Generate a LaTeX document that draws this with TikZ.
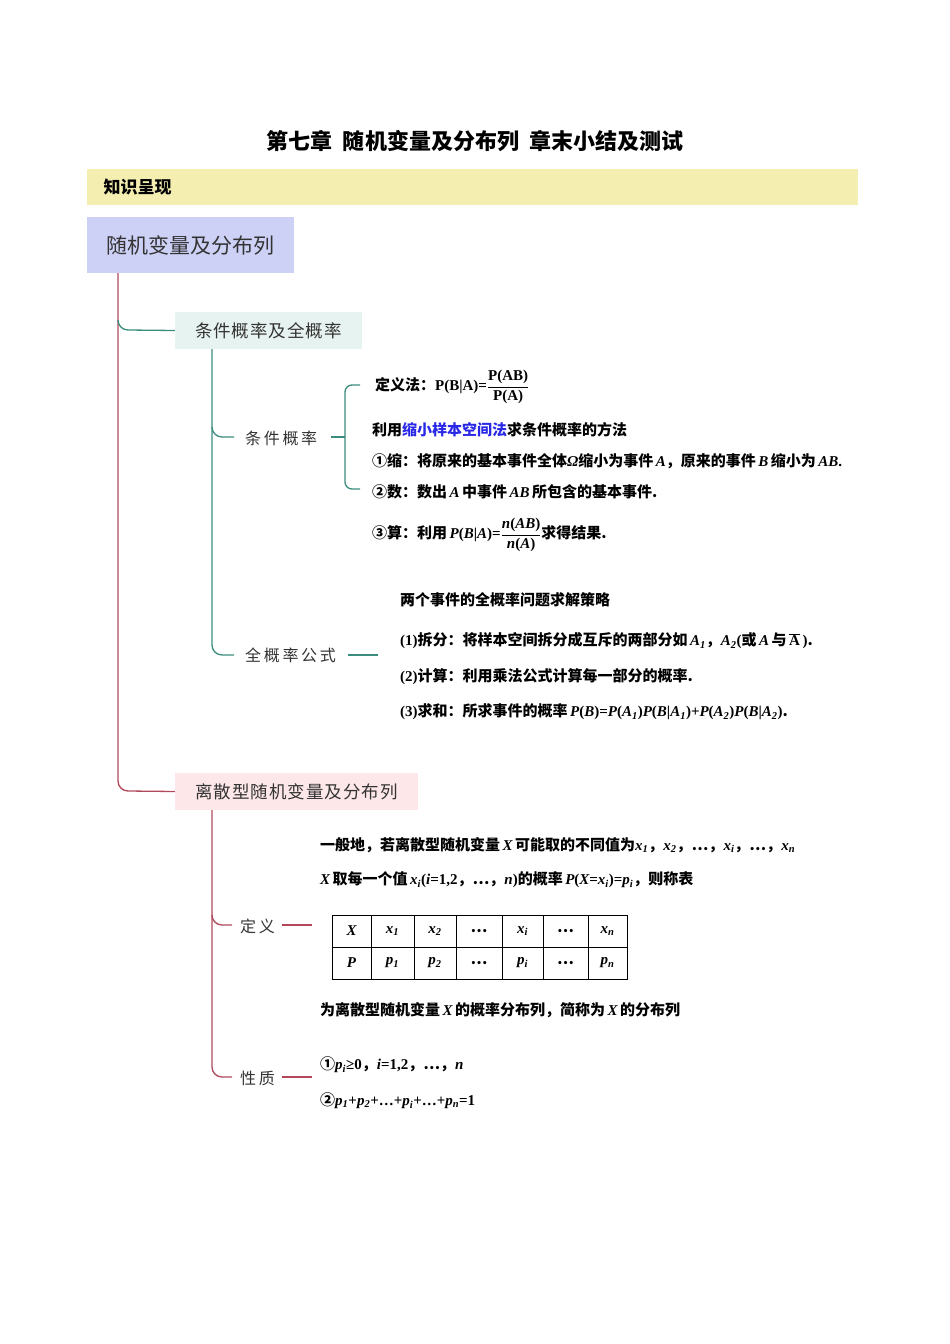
\documentclass[tikz,border=0pt]{standalone}
\usepackage{amsmath,amssymb}
\usepackage{fontspec}
\setmainfont{Noto Sans CJK SC}
\newfontfamily\lat{Liberation Serif}
\newcommand{\mi}[1]{{\lat\bfseries\itshape #1}}
\newcommand{\mr}[1]{{\lat\bfseries #1}}
\newcommand{\sbx}[1]{\textsubscript{\lat\bfseries\itshape #1}}
\begin{document}
\begin{tikzpicture}[x=1pt,y=-1pt,
  txt/.style={anchor=west, inner sep=0pt, font=\fontsize{15}{17}\selectfont\bfseries},
  lbl/.style={anchor=west, inner sep=0pt, font=\fontsize{16}{18}\selectfont, text=black!80},
  cell/.style={draw, minimum height=32pt, inner sep=0pt, font=\fontsize{15}{17}\selectfont\bfseries}]
\useasboundingbox (0,0) rectangle (950,1344);
\definecolor{tl}{RGB}{58,140,125}
\definecolor{pkc}{RGB}{178,72,92}
\node[font=\fontsize{22}{24}\selectfont\bfseries] (title) at (475,141) {第七章\ \ 随机变量及分布列\ \ 章末小结及测试};
\fill[fill={rgb,255:red,244;green,238;blue,176}] (87,169) rectangle (858,205);
\node[anchor=west, font=\fontsize{17}{19}\selectfont\bfseries] (zs) at (100,187) {知识呈现};
\node[fill={rgb,255:red,205;green,209;blue,246}, minimum width=207pt, minimum height=56pt, font=\fontsize{21}{23}\selectfont, text=black!80] (root) at (190.5,245) {随机变量及分布列};
\node[fill={rgb,255:red,231;green,243;blue,240}, minimum width=187pt, minimum height=37pt, font=\fontsize{17.5}{19}\selectfont, text=black!80] (b1) at (268.5,330.5) {条\kern1pt 件\kern1pt 概\kern1pt 率\kern1pt 及\kern1pt 全\kern1pt 概\kern1pt 率};
\node[fill={rgb,255:red,253;green,231;blue,233}, minimum width=243pt, minimum height=37pt, font=\fontsize{17.5}{19}\selectfont, text=black!80] (b2) at (296.5,791.5) {离\kern1pt 散\kern1pt 型\kern1pt 随\kern1pt 机\kern1pt 变\kern1pt 量\kern1pt 及\kern1pt 分\kern1pt 布\kern1pt 列};
% pink trunk
\draw[line width=1.3pt, draw=pkc] (118,273) -- (118,781) to[out=-90,in=180] (128,791) -- (b2.west);
\draw[line width=1.3pt, draw=tl] (118,320) to[out=-90,in=180] (128,330) -- (b1.west);
% teal sub-trunk
\node[lbl] (c1) at (245,438) {条\,件\,概\,率};
\node[lbl] (c2) at (245,655) {全\,概\,率\,公\,式};
\draw[line width=1.3pt, draw=tl] (212,349) -- (212,645) to[out=-90,in=180] (222,655) -- (234,655);
\draw[line width=1.3pt, draw=tl] (212,427) to[out=-90,in=180] (222,437) -- (234,437);
\draw[line width=1.3pt, draw=tl] (331,437) -- (345,437);
\draw[line width=1.3pt, draw=tl] (360,385) -- (352,385) to[out=180,in=90] (345,392) -- (345,482) to[out=-90,in=180] (352,489) -- (360,489);
\draw[line width=1.3pt, draw=tl] (348,655) -- (378,655);
% pink sub-trunk
\node[lbl] (d1) at (240,926) {定\,义};
\node[lbl] (d2) at (240,1078) {性\,质};
\draw[line width=1.3pt, draw=pkc] (212,810) -- (212,1067) to[out=-90,in=180] (222,1077) -- (232,1077);
\draw[line width=1.3pt, draw=pkc] (212,915) to[out=-90,in=180] (222,925) -- (232,925);
\draw[line width=1.3pt, draw=pkc] (282,925) -- (312,925);
\draw[line width=1.3pt, draw=pkc] (282,1077) -- (312,1077);
% conditional probability texts
\node[txt] (t1) at (375,387) {定义法：\mr{P(B|A)=}$\genfrac{}{}{0.8pt}{0}{\text{\mr{P(AB)}}}{\text{\mr{P(A)}}}$};
\node[txt] (t2) at (372,430) {利用{\color[RGB]{40,40,230}缩小样本空间法}求条件概率的方法};
\node[txt] (t3) at (372,461) {①缩：将原来的基本事件全体\mi{Ω}缩小为事件\,\mi{A}，原来的事件\,\mi{B}\,缩小为\,\mi{AB}\mr{.}};
\node[txt] (t4) at (372,492) {②数：数出\,\mi{A}\,中事件\,\mi{AB}\,所包含的基本事件.};
\node[txt] (t5) at (372,535) {③算：利用\,\mi{P}\mr{(}\mi{B}\mr{|}\mi{A}\mr{)=}$\genfrac{}{}{0.8pt}{0}{\text{\mi{n}\mr{(}\mi{AB}\mr{)}}}{\text{\mi{n}\mr{(}\mi{A}\mr{)}}}$求得结果.};
\node[txt] (u1) at (400,600) {两个事件的全概率问题求解策略};
\node[txt] (u2) at (400,641) {\mr{(1)}拆分：将样本空间拆分成互斥的两部分如\,\mi{A}\sbx{1}，\mi{A}\sbx{2}\mr{(}或\,\mi{A}\,与\,$\overline{\text{\lat A}}$\,\mr{)}.};
\node[txt] (u3) at (400,677) {\mr{(2)}计算：利用乘法公式计算每一部分的概率.};
\node[txt] (u4) at (400,712) {\mr{(3)}求和：所求事件的概率\,\mi{P}\mr{(}\mi{B}\mr{)=}\mi{P}\mr{(}\mi{A}\sbx{1}\mr{)}\mi{P}\mr{(}\mi{B}\mr{|}\mi{A}\sbx{1}\mr{)+}\mi{P}\mr{(}\mi{A}\sbx{2}\mr{)}\mi{P}\mr{(}\mi{B}\mr{|}\mi{A}\sbx{2}\mr{)}.};
% discrete
\node[txt] (v1) at (320,845) {一般地，若离散型随机变量\,\mi{X}\,可能取的不同值为\mi{x}\sbx{1}，\mi{x}\sbx{2}，…，\mi{x}\sbx{i}，…，\mi{x}\sbx{n}};
\node[txt] (v2) at (320,880) {\mi{X}\,取每一个值\,\mi{x}\sbx{i}\mr{(}\mi{i}\mr{=1,2}，…，\mi{n}\mr{)}的概率\,\mi{P}\mr{(}\mi{X}\mr{=}\mi{x}\sbx{i}\mr{)=}\mi{p}\sbx{i}，则称表};
\node[txt] (v3) at (320,1010) {为离散型随机变量\,\mi{X}\,的概率分布列，简称为\,\mi{X}\,的分布列};
\node[txt] (w1) at (320,1065) {①\mi{p}\sbx{i}\mr{≥0}，\mi{i}\mr{=1,2}，…，\mi{n}};
\node[txt] (w2) at (320,1101) {②\mi{p}\sbx{1}\mr{+}\mi{p}\sbx{2}\mr{+…+}\mi{p}\sbx{i}\mr{+…+}\mi{p}\sbx{n}\mr{=1}};
% table
\foreach \a/\b/\t/\s [count=\k] in {332/371/\mi{X}/\mi{P}, 371/414/\mi{x}\sbx{1}/\mi{p}\sbx{1}, 414/456/\mi{x}\sbx{2}/\mi{p}\sbx{2}, 456/502/…/…, 502/543/\mi{x}\sbx{i}/\mi{p}\sbx{i}, 543/588/…/…, 588/627/\mi{x}\sbx{n}/\mi{p}\sbx{n}}{
  \node[cell, minimum width={\b-\a}] (r\k) at ({(\a+\b)/2},931) {\t};
  \node[cell, minimum width={\b-\a}] (s\k) at ({(\a+\b)/2},963) {\s};
}
\end{tikzpicture}
\end{document}
